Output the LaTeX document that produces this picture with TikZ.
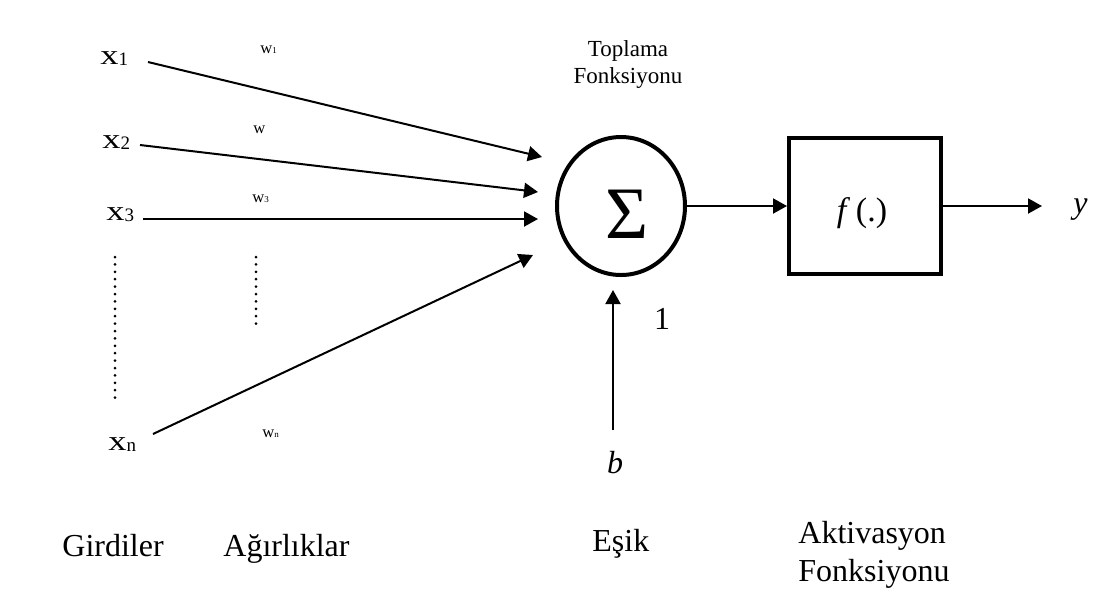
\documentclass[tikz,border=0pt]{standalone}
\usepackage{fontspec}
\usepackage{graphicx}
\setmainfont{Liberation Serif}
\usetikzlibrary{arrows.meta,shapes.geometric}
\newcommand\fsz[1]{\fontsize{#1}{#1}\selectfont}
% input symbol x_i with a lowered, smaller index
\newcommand\xin[1]{\scalebox{1.3}[1]{x}\raisebox{-0.5pt}{\fsz{9.5}#1}}
% weight symbol w_i
\newcommand\wsub[1]{w\raisebox{-0.3pt}{\fsz{4.5}#1}}

\begin{document}
\begin{tikzpicture}[x=0.5pt,y=-0.5pt,
  lbl/.style={inner sep=0pt, anchor=base west},
  clbl/.style={inner sep=0pt, anchor=base},
  conn/.style={line width=1pt, -{Triangle[length=7pt,width=7.5pt]}},
  dotcol/.style={line width=1.5pt, line cap=round, dash pattern=on 0pt off 3.7pt},
  thickshape/.style={draw, line width=2pt, inner sep=0pt},
]
\useasboundingbox[fill=white] (0,0) rectangle (1094,591);

% inputs
\node[lbl, font=\fsz{14}] (x1) at (100,64) {\xin{1}};
\node[lbl, font=\fsz{14}] (x2) at (102,148) {\xin{2}};
\node[lbl, font=\fsz{14}] (x3) at (106,220) {\xin{3}};
\node[lbl, font=\fsz{14}] (xn) at (108,450) {\xin{n}};

% weights
\node[lbl, font=\fsz{8.3}] (w1) at (260,53) {\wsub{1}};
\node[lbl, font=\fsz{8.3}] (w2) at (253,133) {w};
\node[lbl, font=\fsz{8.3}] (w3) at (252,202) {\wsub{3}};
\node[lbl, font=\fsz{8.3}] (wn) at (262,437) {\wsub{n}};

% vertical ellipsis dots
\draw[dotcol] (115,257) -- (115,401);
\draw[dotcol] (256,257) -- (256,329);

% summation unit
\node[ellipse, thickshape, minimum width=64pt, minimum height=69pt] (sum) at (621,206) {};
\node[clbl, font=\fsz{37}] (sig) at (627,238) {Σ};
% (base of a two-line node is the baseline of its last line)
\node[clbl, font=\fontsize{11.5}{13.5}\selectfont, align=center] (top) at (628,83) {Toplama\\Fonksiyonu};

% activation block
\node[thickshape, minimum width=76pt, minimum height=68pt] (fb) at (865,206) {};
\node[clbl, font=\fsz{17}] (fx) at (862,221) {\textit{f}\,(.)};
\node[lbl, font=\fsz{16}] (y) at (1073,213) {\textit{y}};

% bias
\node[clbl, font=\fsz{16}] (b) at (615,473) {\textit{b}};
\node[clbl, font=\fsz{16}] (one) at (662,329) {1};

% connector end points
\coordinate (x1s) at (148,62);  \coordinate (x1e) at (542,157);
\coordinate (x2s) at (140,145); \coordinate (x2e) at (538,192);
\coordinate (x3s) at (143,219); \coordinate (x3e) at (538,219);
\coordinate (xns) at (153,434); \coordinate (xne) at (533,255);
\coordinate (bs) at (613,430);  \coordinate (be) at (613,290);
\coordinate (yt) at (1042,206);

\draw[conn] (x1s) -- (x1e);
\draw[conn] (x2s) -- (x2e);
\draw[conn] (x3s) -- (x3e);
\draw[conn] (xns) -- (xne);
\draw[conn] (bs) -- (be);
\draw[conn] (sum.east) -- (fb.west);
\draw[conn] (fb.east) -- (yt);

% captions
\node[lbl, font=\fsz{16}] (cap1) at (62,556) {Girdiler};
\node[lbl, font=\fsz{16}] (cap2) at (223,556) {Ağırlıklar};
\node[lbl, font=\fsz{16}] (cap3) at (592,551) {Eşik};
\node[lbl, font=\fontsize{16}{19}\selectfont, align=left] (cap4) at (798,581) {Aktivasyon\\Fonksiyonu};
\end{tikzpicture}
\end{document}
